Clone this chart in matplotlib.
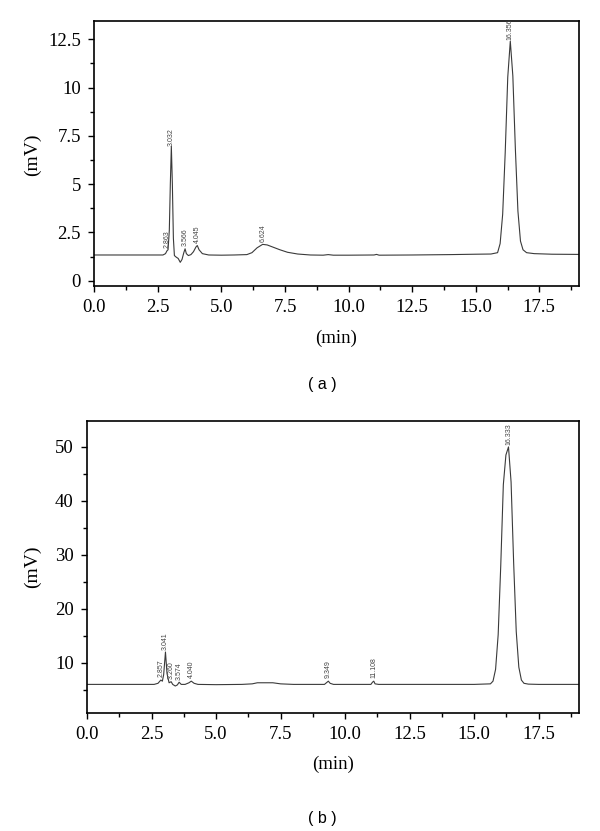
import matplotlib
matplotlib.use("Agg")
import matplotlib.pyplot as plt
from matplotlib.ticker import MultipleLocator, FormatStrFormatter
import numpy as np

# ---------------- data ----------------
time_a = [0.0, 1.0, 2.0, 2.70, 2.80, 2.86, 2.90, 2.95, 2.99, 3.03, 3.07, 3.11, 3.15,
          3.22, 3.30, 3.38, 3.45, 3.52, 3.57, 3.62, 3.70, 3.80, 3.90, 4.00, 4.05,
          4.12, 4.25, 4.50, 5.00, 5.50, 6.00, 6.20, 6.40, 6.62, 6.80, 7.00, 7.30,
          7.60, 8.00, 8.50, 9.00, 9.20, 9.40, 10.0, 11.0, 11.1, 11.2, 12.5, 14.0,
          15.0, 15.6, 15.86, 15.96, 16.06, 16.16, 16.26, 16.36, 16.46, 16.56,
          16.66, 16.76, 16.86, 17.0, 17.3, 18.0, 19.05]
mv_a = [1.33, 1.33, 1.33, 1.33, 1.40, 1.55, 1.60, 2.60, 5.00, 6.95, 5.00, 2.20, 1.30,
        1.22, 1.15, 0.95, 1.10, 1.45, 1.65, 1.40, 1.30, 1.35, 1.50, 1.75, 1.82,
        1.60, 1.40, 1.33, 1.32, 1.33, 1.35, 1.45, 1.70, 1.88, 1.85, 1.75, 1.60,
        1.47, 1.38, 1.33, 1.32, 1.35, 1.32, 1.32, 1.33, 1.36, 1.32, 1.33, 1.35,
        1.37, 1.38, 1.45, 1.92, 3.44, 6.64, 10.54, 12.40, 10.60, 6.80, 3.60,
        2.05, 1.60, 1.45, 1.40, 1.37, 1.36]
peaks_a = [2.863, 3.032, 3.566, 4.045, 6.624, 16.356]
labels_a = ["2.863", "3.032", "3.566", "4.045", "6.624", "16.356"]

time_b = [0.0, 1.0, 2.0, 2.60, 2.75, 2.86, 2.92, 2.97, 3.04, 3.10, 3.18, 3.26,
          3.32, 3.42, 3.50, 3.57, 3.65, 3.80, 3.95, 4.04, 4.15, 4.30, 5.00, 6.00,
          6.40, 6.60, 7.20, 7.50, 8.00, 9.20, 9.30, 9.35, 9.42, 9.55, 11.0, 11.06,
          11.11, 11.16, 11.30, 13.0, 15.0, 15.63, 15.73, 15.83, 15.93, 16.03,
          16.13, 16.23, 16.33, 16.43, 16.53, 16.63, 16.73, 16.83, 16.93, 17.1,
          17.5, 19.05]
mv_b = [6.0, 6.0, 6.0, 6.0, 6.2, 6.8, 6.6, 7.8, 12.0, 8.0, 6.3, 6.5,
        6.0, 5.7, 5.9, 6.4, 6.0, 6.0, 6.3, 6.6, 6.2, 6.0, 5.95, 6.0,
        6.1, 6.3, 6.3, 6.1, 6.0, 6.0, 6.4, 6.6, 6.2, 6.0, 6.0, 6.4,
        6.6, 6.1, 6.0, 6.0, 6.0, 6.1, 6.6, 8.8, 15.2, 28.0,
        43.0, 48.5, 50.0, 43.5, 28.5, 15.8, 9.2, 6.8, 6.2, 6.05,
        6.0, 6.0]
peaks_b = [2.857, 3.041, 3.260, 3.574, 4.040, 9.349, 11.108, 16.333]
labels_b = ["2.857", "3.041", "3.260", "3.574", "4.040", "9.349", "11.108", "16.333"]

x_ticks = [0.0, 2.5, 5.0, 7.5, 10.0, 12.5, 15.0, 17.5]

# ---------------- figure ----------------
W, H = 600, 831
fig = plt.figure(figsize=(W / 100, H / 100), dpi=100)

serif = "Liberation Serif"
sans = "Liberation Sans"


def px_axes(left, top, right, bottom):
    return fig.add_axes([left / W, 1 - bottom / H, (right - left) / W, (bottom - top) / H])


def style(ax, ylim, ymajor, yminor, yfmt):
    ax.set_xlim(0, 19.05)
    ax.set_ylim(*ylim)
    ax.set_xticks(x_ticks)
    ax.xaxis.set_major_formatter(FormatStrFormatter("%.1f"))
    ax.xaxis.set_minor_locator(MultipleLocator(1.25))
    ax.yaxis.set_major_locator(MultipleLocator(ymajor))
    ax.yaxis.set_minor_locator(MultipleLocator(yminor))
    ax.yaxis.set_major_formatter(yfmt)
    ax.tick_params(which="major", direction="out", length=4.5, width=1.0,
                   labelsize=13.5, pad=5)
    ax.tick_params(which="minor", direction="out", length=3, width=1.0)
    ax.tick_params(top=False, right=False)
    for lab in ax.get_xticklabels() + ax.get_yticklabels():
        lab.set_fontfamily(serif)
    for s in ax.spines.values():
        s.set_linewidth(1.2)


def fmt_a(v, pos):
    if abs(v) < 1e-9:
        return "0"
    if abs(v - round(v)) < 1e-9:
        return "%d" % round(v)
    return "%.1f" % v


from matplotlib.ticker import FuncFormatter

# panel (a)
ax1 = px_axes(94.3, 20.7, 578.7, 285.7)
ax1.plot(time_a, mv_a, color="#3a3a3a", lw=0.8)
style(ax1, (-0.26, 13.46), 2.5, 1.25, FuncFormatter(fmt_a))
for t, lab in zip(peaks_a, labels_a):
    y = np.interp(t, time_a, mv_a)
    ax1.annotate(lab, (t, y), xytext=(0, 2), textcoords="offset points",
                 rotation=90, ha="center", va="bottom", fontsize=5,
                 color="#444444", family=sans)

# panel (b)
ax2 = px_axes(87.0, 421.0, 578.7, 713.0)
ax2.plot(time_b, mv_b, color="#3a3a3a", lw=0.8)
style(ax2, (0.7, 54.8), 10, 5, FuncFormatter(lambda v, p: "%d" % round(v)))
for t, lab in zip(peaks_b, labels_b):
    y = np.interp(t, time_b, mv_b)
    ax2.annotate(lab, (t, y), xytext=(0, 2), textcoords="offset points",
                 rotation=90, ha="center", va="bottom", fontsize=5,
                 color="#444444", family=sans)

# axis titles and panel labels
fig.text(336 / W, 1 - 338 / H, "(min)", ha="center", va="center",
         fontsize=13.5, family=serif)
fig.text(333 / W, 1 - 764 / H, "(min)", ha="center", va="center",
         fontsize=13.5, family=serif)
fig.text(32 / W, 1 - 155 / H, "(mV)", ha="center", va="center", rotation=90,
         fontsize=14, family=serif)
fig.text(32 / W, 1 - 567 / H, "(mV)", ha="center", va="center", rotation=90,
         fontsize=14, family=serif)
fig.text(322 / W, 1 - 384 / H, "( a )", ha="center", va="center",
         fontsize=11.5, family=sans)
fig.text(322 / W, 1 - 819 / H, "( b )", ha="center", va="center",
         fontsize=11.5, family=sans)

fig.savefig("out.png", dpi=100)
